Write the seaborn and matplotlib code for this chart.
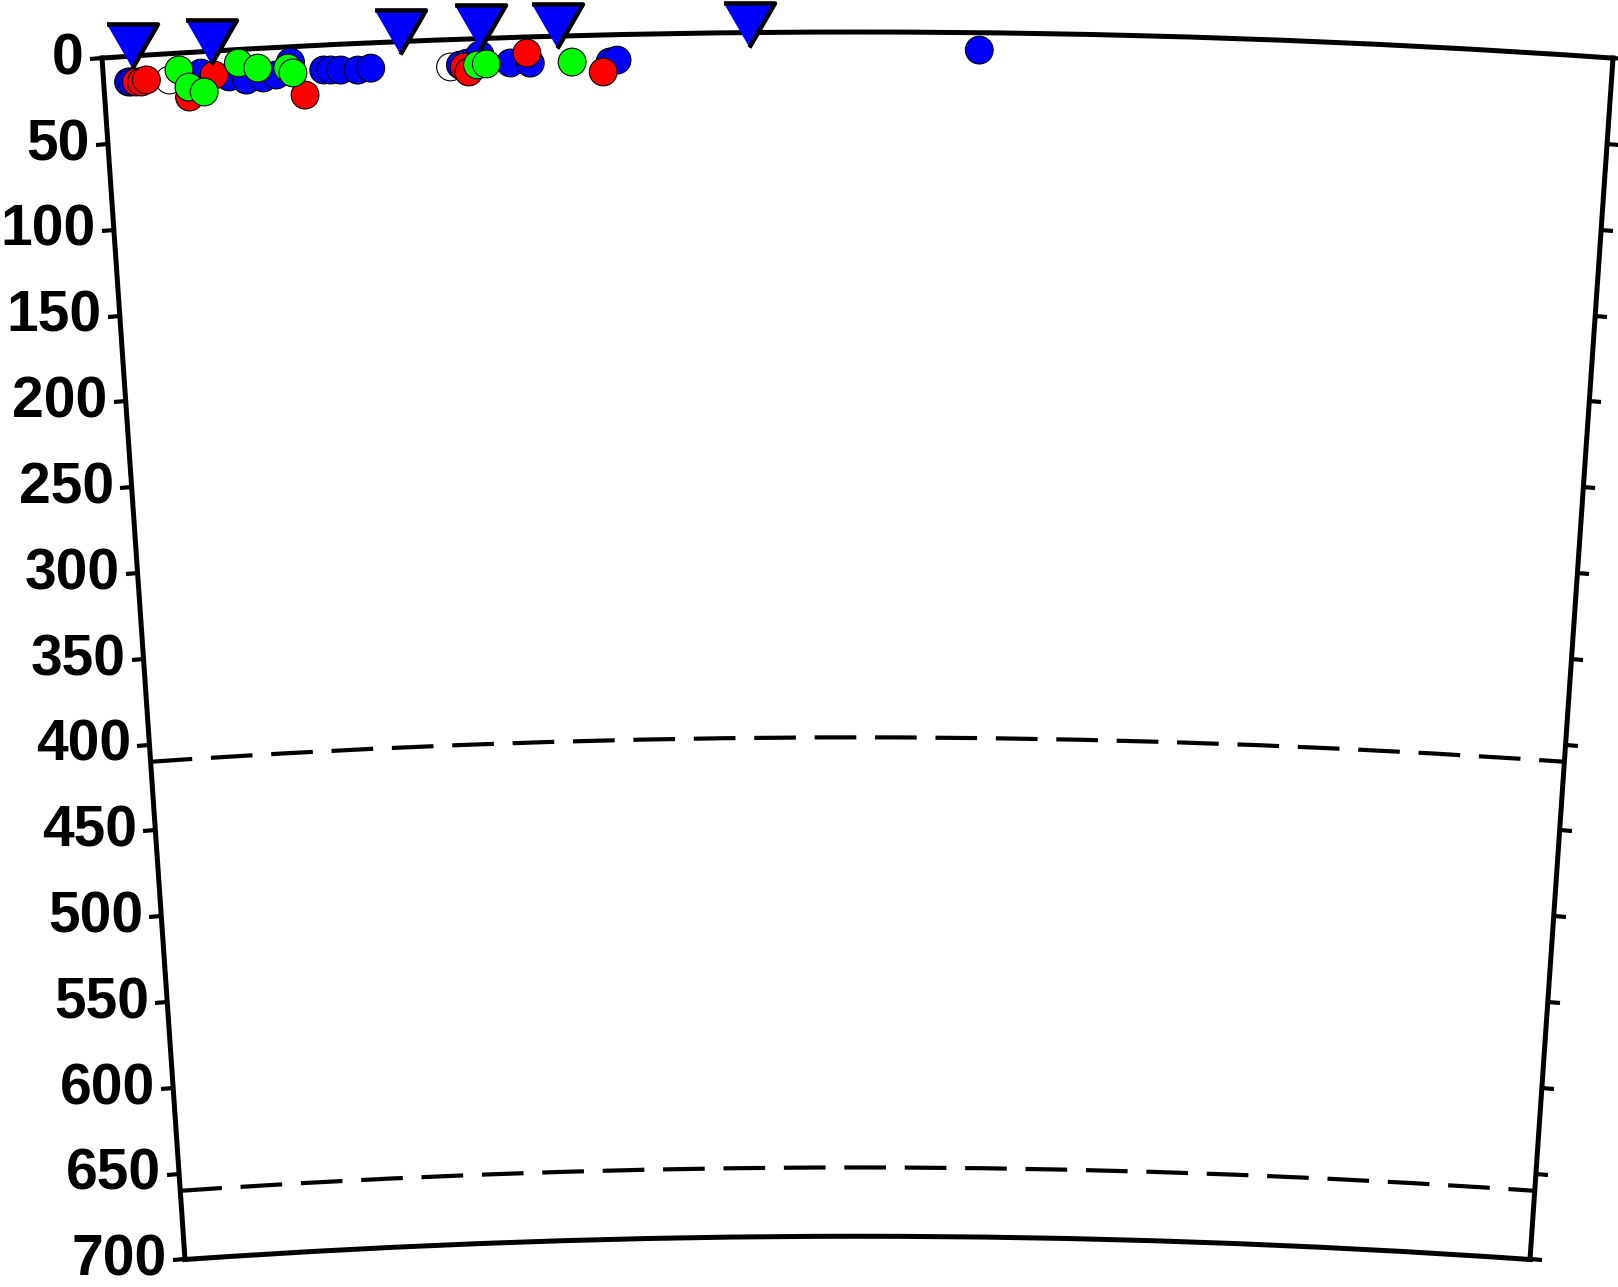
import numpy as np
import pandas as pd
import seaborn as sns
import matplotlib.pyplot as plt

sns.set_style("white")
plt.rcParams['font.family'] = ['Liberation Sans', 'DejaVu Sans']
plt.rcParams['font.weight'] = 'bold'

R_EARTH = 6371.0
PROFILE_KM = 879.0
MAX_DEPTH = 700

depth_ticks = [0, 50, 100, 150, 200, 250, 300, 350, 400, 450, 500, 550, 600, 650, 700]
discontinuities = [410, 660]

# events: distance along profile (km), depth (km)
blue_dist = [14.5, 16.2, 56.9, 73.2, 83.1, 93.0, 100.5, 109.3, 128.4, 132.5, 138.3,
             148.2, 155.8, 208.1, 212.2, 219.7, 237.2, 248.8, 295.3, 299.4, 510.4]
blue_depth = [14.9, 15.0, 12.4, 15.6, 18.0, 17.3, 16.0, 8.9, 14.5, 14.7, 15.0,
              15.5, 14.7, 15.0, 14.0, 9.6, 14.8, 15.2, 15.8, 14.8, 10.1]
red_dist = [19.1, 22.0, 24.9, 49.4, 64.5, 116.8, 210.3, 212.8, 247.0, 291.2]
red_depth = [15.2, 15.4, 14.4, 25.9, 14.0, 28.5, 16.2, 19.2, 9.3, 21.5]
green_dist = [44.2, 49.4, 58.1, 79.0, 90.1, 107.5, 110.4, 218.0, 223.2, 273.2]
green_depth = [9.8, 20.1, 23.5, 7.8, 11.4, 12.3, 15.3, 15.3, 14.9, 15.3]
white_dist = [38.3, 202.3]
white_depth = [15.3, 15.9]

# stations
station_dist = [17.9, 63.9, 173.8, 220.3, 265.1, 376.7]
station_depth = [-5.8, -5.2, -5.5, -6.7, -5.9, -4.1]


def to_polar(dist, depth):
    theta = (np.asarray(dist) - PROFILE_KM / 2) / R_EARTH
    r = R_EARTH - np.asarray(depth)
    return theta, r


frames = []
for name, d, z in [('white', white_dist, white_depth), ('blue', blue_dist, blue_depth),
                   ('red', red_dist, red_depth), ('green', green_dist, green_depth)]:
    th, r = to_polar(d, z)
    frames.append(pd.DataFrame({'theta': th, 'r': r, 'kind': name}))
events = pd.concat(frames, ignore_index=True)

th, r = to_polar(station_dist, station_depth)
stations = pd.DataFrame({'theta': th, 'r': r})

W, H = 1618, 1287
fig = plt.figure(figsize=(W / 100, H / 100), dpi=100)
side = 1511
cy = (32 + 1259.5) / 2
ax = fig.add_axes([102 / W, (H - (cy + side / 2)) / H, side / W, side / H], projection='polar')

ax.set_theta_zero_location('N')
ax.set_theta_direction(-1)
half = np.degrees(PROFILE_KM / 2 / R_EARTH)
ax.set_thetamin(-half)
ax.set_thetamax(half)

sns.scatterplot(data=events, x='theta', y='r', hue='kind',
                palette={'white': 'white', 'blue': '#0000ff', 'red': '#ff0000', 'green': '#00ff00'},
                s=400, edgecolor='black', linewidth=0.8, clip_on=False, legend=False,
                zorder=3, ax=ax)

tri = [(-1, 0.866), (1, 0.866), (0, -0.866)]
sns.scatterplot(data=stations, x='theta', y='r', marker=tri, color='#0000ff',
                s=1350, edgecolor='black', linewidth=3.2, clip_on=False, legend=False,
                zorder=4, ax=ax)

ax.set_rorigin(0)
ax.set_rlim(R_EARTH - MAX_DEPTH, R_EARTH)
ax.set_xticks([])
ax.set_yticks([R_EARTH - d for d in depth_ticks])
ax.set_yticklabels([str(d) for d in depth_ticks])
ax.set_yticks([R_EARTH - d for d in discontinuities], minor=True)
ax.grid(False)
ax.yaxis.grid(True, which='minor', color='black', linewidth=3, linestyle=(0, (10, 4.5)))
ax.tick_params(axis='y', which='major', direction='out', length=9, width=3,
               labelsize=41, pad=4, labelrotation=0, colors='black',
               left=True, right=True, labelleft=True, labelright=False)
ax.tick_params(axis='y', which='minor', length=0)
ax.set_xlabel('')
ax.set_ylabel('')
for s in ax.spines.values():
    s.set_linewidth(3.6)
    s.set_color('black')

fig.savefig('out.png', dpi=100)
